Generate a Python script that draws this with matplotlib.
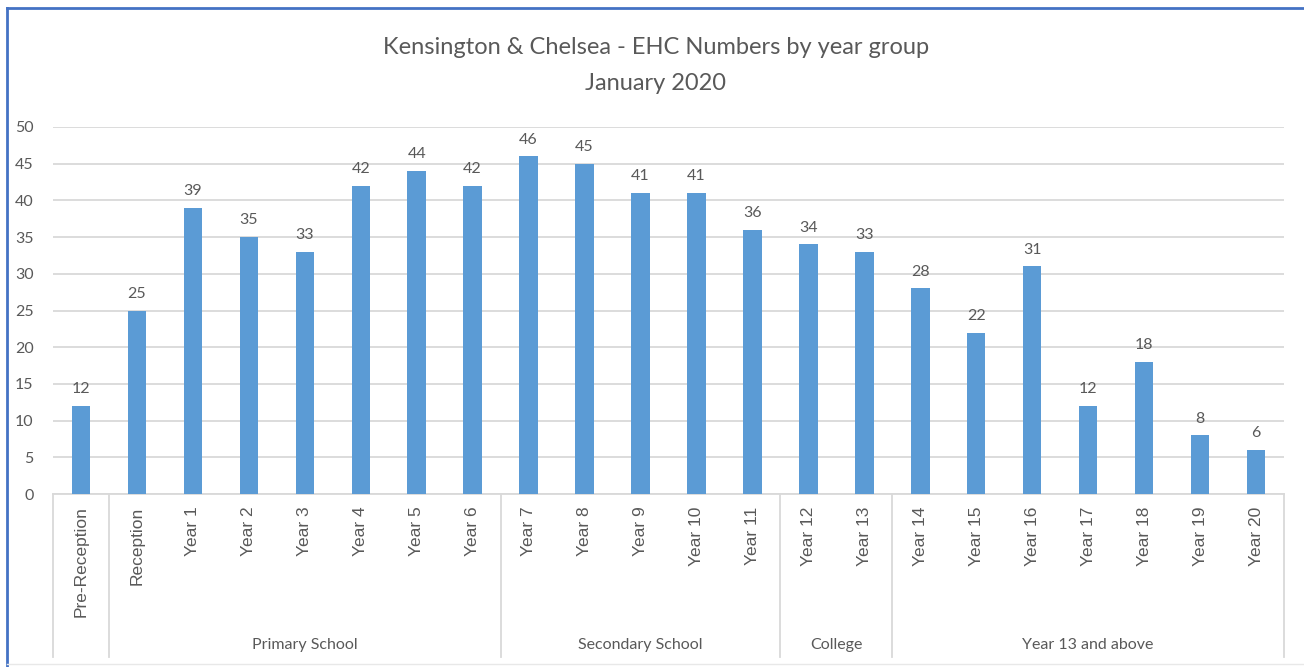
import matplotlib
matplotlib.use("Agg")
import matplotlib.pyplot as plt
from matplotlib.lines import Line2D

# data
year_groups = ["Pre-Reception", "Reception", "Year 1", "Year 2", "Year 3", "Year 4",
               "Year 5", "Year 6", "Year 7", "Year 8", "Year 9", "Year 10", "Year 11",
               "Year 12", "Year 13", "Year 14", "Year 15", "Year 16", "Year 17",
               "Year 18", "Year 19", "Year 20"]
ehc_numbers = [12, 25, 39, 35, 33, 42, 44, 42, 46, 45, 41, 41, 36, 34, 33, 28, 22, 31,
               12, 18, 8, 6]
phase_names = ["", "Primary School", "Secondary School", "College", "Year 13 and above"]
phase_sizes = [1, 7, 5, 2, 7]

BAR_COL = "#5B9BD5"
GRID_COL = "#D9D9D9"
TXT_COL = "#595959"
W, H = 1304, 667

fig = plt.figure(figsize=(W / 100, H / 100), dpi=100)
ax = fig.add_axes([53 / W, 1 - 494 / H, (1284 - 53) / W, (494 - 127) / H])

x = list(range(len(year_groups)))
bars = ax.bar(x, ehc_numbers, width=0.33, color=BAR_COL, zorder=3)
ax.bar_label(bars, padding=7, color=TXT_COL, fontsize=11.5, family="Lato")

ax.set_xlim(-0.5, len(year_groups) - 0.5)
ax.set_ylim(0, 50)
ax.set_yticks(range(0, 51, 5))
ax.yaxis.grid(True, color=GRID_COL, linewidth=1.3, zorder=0)
ax.tick_params(axis="y", length=0, pad=14, labelsize=11.5, labelcolor=TXT_COL)
for lab in ax.get_yticklabels():
    lab.set_family("Lato")

ax.set_xticks(x)
ax.set_xticklabels(year_groups, rotation=90, family="Liberation Sans", fontsize=12.5,
                   color=TXT_COL, va="top")
ax.tick_params(axis="x", length=0, pad=9)

for s in ["top", "right", "left"]:
    ax.spines[s].set_visible(False)
ax.spines["bottom"].set_color(GRID_COL)
ax.spines["bottom"].set_linewidth(1.3)

# multi-level category axis: separators and phase labels
trans = ax.get_xaxis_transform()
depth = -(657 - 494) / (494 - 127)
lab_y = -(645 - 494) / (494 - 127)
start = -0.5
bounds = [start]
for name, n in zip(phase_names, phase_sizes):
    end = start + n
    if name:
        ax.text((start + end) / 2, lab_y, name, transform=trans, ha="center", va="center",
                fontsize=11.5, color=TXT_COL, family="Lato")
    bounds.append(end)
    start = end
for b in bounds:
    ax.add_line(Line2D([b, b], [0, depth], transform=trans, color=GRID_COL, lw=1.3,
                       clip_on=False))

fig.text(0.503, 1 - 47 / H, "Kensington & Chelsea - EHC Numbers by year group",
         ha="center", va="center", fontsize=17, color=TXT_COL, family="Lato")
fig.text(0.503, 1 - 83 / H, "January 2020", ha="center", va="center", fontsize=17,
         color=TXT_COL, family="Lato")

# blue frame (left and top edges visible in the screenshot), light bottom edge
fig.add_artist(Line2D([7 / W, 7 / W], [0, 1 - 8 / H], transform=fig.transFigure,
                      color="#4472C4", lw=2))
fig.add_artist(Line2D([7 / W, 1], [1 - 8 / H, 1 - 8 / H], transform=fig.transFigure,
                      color="#4472C4", lw=2))
fig.add_artist(Line2D([7 / W, 1], [1 - 664 / H, 1 - 664 / H], transform=fig.transFigure,
                      color="#E8E8E8", lw=1))

fig.savefig("out.png", dpi=100)
